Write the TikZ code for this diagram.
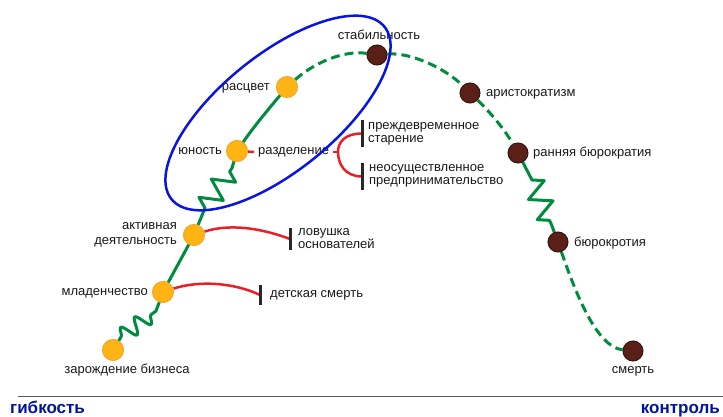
\documentclass[tikz,border=0pt]{standalone}
\usepackage{fontspec}
\setmainfont{Liberation Sans}
\usetikzlibrary{decorations.pathmorphing,backgrounds}
\definecolor{gC}{RGB}{0,140,62}
\definecolor{oF}{RGB}{255,180,20}
\definecolor{oD}{RGB}{245,165,40}
\definecolor{bF}{RGB}{90,32,24}
\definecolor{bD}{RGB}{55,20,15}
\definecolor{rC}{RGB}{235,30,40}
\definecolor{blC}{RGB}{10,20,225}
\definecolor{tB}{RGB}{0,20,160}
\definecolor{barC}{RGB}{40,40,40}
\definecolor{axC}{RGB}{90,90,90}
\begin{document}
\begin{tikzpicture}[x=1pt,y=-1pt,
  onode/.style={circle,fill=oF,draw=oD,line width=1pt,minimum size=21pt,inner sep=0},
  bnode/.style={circle,fill=bF,draw=bD,line width=1pt,minimum size=20pt,inner sep=0},
  gl/.style={draw=gC,line width=3pt,line cap=round,line join=round},
  gd/.style={draw=gC,line width=3pt,dash pattern=on 9pt off 5pt},
  rl/.style={draw=rC,line width=2.5pt},
  barl/.style={draw=barC,line width=3pt},
  lbl/.style={inner sep=0,text=black!90,font=\fontsize{13}{13}\selectfont},
  big/.style={inner sep=0,text=tB,font=\fontsize{17}{18}\selectfont\bfseries},
  snk/.style={decoration={snake,segment length=17.5pt,amplitude=8pt}},
  zz/.style={decoration={zigzag,segment length=22pt,amplitude=11pt}}
]
\useasboundingbox (0,0) rectangle (723,417);
% stage nodes
\node[onode] (zar) at (113,350) {};
\node[onode] (mlad) at (163,292) {};
\node[onode] (akt) at (194,235) {};
\node[onode] (yun) at (237,151) {};
\node[onode] (ras) at (287,87) {};
\node[bnode] (stab) at (377,55) {};
\node[bnode] (arist) at (470,93) {};
\node[bnode] (rb) at (518,153) {};
\node[bnode] (bur) at (558,242) {};
\node[bnode] (sm) at (633,351) {};
% helper coordinates
\coordinate (w1a) at (121,337);
\coordinate (w1b) at (156,311);
\coordinate (w2a) at (205,208);
\coordinate (w2b) at (232,168);
\coordinate (w3a) at (532,180);
\coordinate (w3b) at (552,226);
\coordinate (rs) at (254,152);
\coordinate (fk) at (333,152);
\coordinate (fk2) at (338,152);
\coordinate (b1t) at (362,120);
\coordinate (b1b) at (362,147);
\coordinate (b1m) at (362,133.5);
\coordinate (b2t) at (362,163);
\coordinate (b2b) at (362,190);
\coordinate (b2m) at (362,176.5);
\coordinate (b3t) at (290,228);
\coordinate (b3b) at (290,250);
\coordinate (b3m) at (290,239);
\coordinate (b4t) at (260,285);
\coordinate (b4b) at (260,305);
\coordinate (b4m) at (260,295);
% labels
\node[lbl,anchor=base] (tzar) at (127,373) {зарождение бизнеса};
\node[lbl,anchor=base east] (tmlad) at (148,295) {младенчество};
\node[lbl,anchor=east,align=right,font=\fontsize{13}{15}\selectfont] (takt) at (177,235) {активная\\деятельность};
\node[lbl,anchor=base east] (tyun) at (222,155) {юность};
\node[lbl,anchor=base east] (tras) at (270,91) {расцвет};
\node[lbl,anchor=base west] (traz) at (258,155) {разделение};
\node[lbl,anchor=base] (tstab) at (379,40) {стабильность};
\node[lbl,anchor=base west] (tarist) at (486,97) {аристократизм};
\node[lbl,anchor=base west] (trb) at (533,157) {ранняя бюрократия};
\node[lbl,anchor=base west] (tbur) at (574,246) {бюрокротия};
\node[lbl,anchor=base] (tsm) at (633,373) {смерть};
\node[lbl,anchor=west,align=left] (tpre) at (368,134) {преждевременное\\старение};
\node[lbl,anchor=west,align=left] (tneo) at (369,176) {неосуществленное\\предпринимательство};
\node[lbl,anchor=west,align=left] (tlov) at (298,239) {ловушка\\основателей};
\node[lbl,anchor=base west] (tdet) at (270,297) {детская смерть};
\node[big,anchor=base west] (tgib) at (10,413) {гибкость};
\node[big,anchor=base east] (tkon) at (720,413) {контроль};
% axis
\coordinate (ax1) at (18,396.5);
\coordinate (ax2) at (723,396.5);
\draw[axC,line width=1.3pt] (ax1) -- (ax2);
\begin{pgfonlayer}{background}
% green path
\draw[gl] (zar) -- (w1a) decorate[snk]{-- (w1b)} -- (mlad);
\draw[gl] (mlad) -- (akt);
\draw[gl] (akt) -- (w2a) decorate[zz]{-- (w2b)} -- (yun);
\draw[gl] (yun) .. controls (255,125) and (272,105) .. (ras);
\draw[gd] (ras) .. controls (315,62) and (345,50) .. (stab);
\draw[gd] (stab) .. controls (410,52) and (445,68) .. (arist);
\draw[gd] (arist) .. controls (490,112) and (505,130) .. (rb);
\draw[gl] (rb) -- (w3a) decorate[zz]{-- (w3b)} -- (bur);
\draw[gd] (bur) .. controls (578,300) and (598,347) .. (sm);
% red branches
\draw[rl] (yun) -- (rs);
\draw[rl] (fk) -- (fk2);
\draw[rl] (b1m) .. controls (345,133.5) and (338,142) .. (fk2) .. controls (338,164) and (345,176.5) .. (b2m);
\draw[rl] (akt) .. controls (228,224) and (258,227) .. (b3m);
\draw[rl] (mlad) .. controls (200,280) and (235,283) .. (b4m);
\end{pgfonlayer}
% bars
\draw[barl] (b1t) -- (b1b);
\draw[barl] (b2t) -- (b2b);
\draw[barl] (b3t) -- (b3b);
\draw[barl] (b4t) -- (b4b);
% ellipse
\draw[blC,line width=2.5pt,rotate around={39:(278,113)}] (278,113) ellipse [x radius=137pt,y radius=58pt];
\end{tikzpicture}
\end{document}
